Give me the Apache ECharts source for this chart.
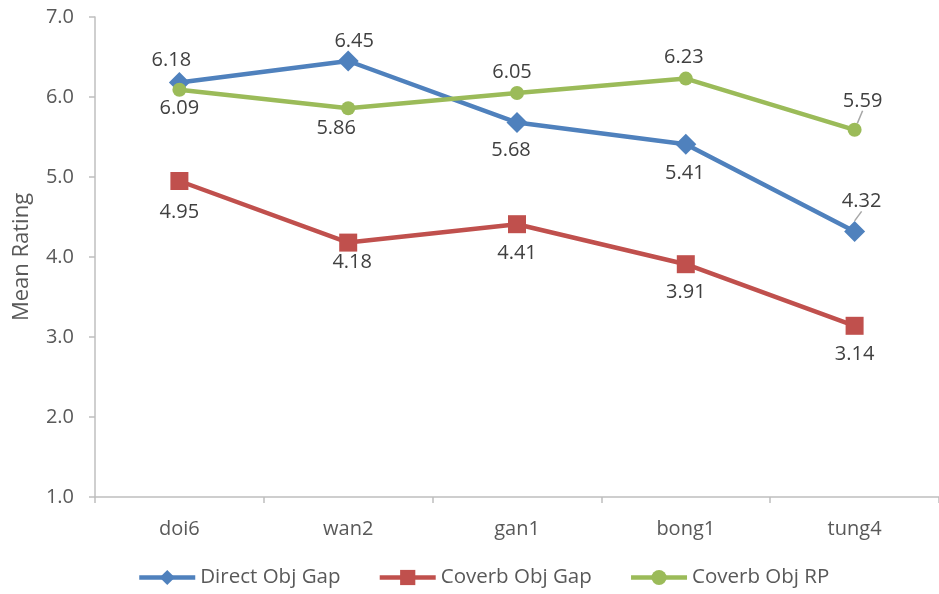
<!DOCTYPE html>
<html><head><meta charset="utf-8">
<script src="https://cdn.jsdelivr.net/npm/echarts@6/dist/echarts.min.js"></script>
<style>html,body{margin:0;padding:0;background:#fff}#c{width:939px;height:594px}</style>
</head><body><div id="c"></div>
<script>
const categories = ['doi6','wan2','gan1','bong1','tung4'];
const directObjGap = [6.18, 6.45, 5.68, 5.41, 4.32];
const coverbObjGap = [4.95, 4.18, 4.41, 3.91, 3.14];
const coverbObjRP = [6.09, 5.86, 6.05, 6.23, 5.59];

// label placement (styling), relative to each point
const directLbl = [[-8,-22],[6,-20],[-6,28],[-1,29],[7,-30]];
const gapLbl = [[0,31],[4,20],[0,29],[0,28],[0,28]];
const rpLbl = [[0,18],[-12,20],[-5,-21],[-2,-21],[8,-29]];
const leader = [false,false,false,false,true];

const FONT = 'Open Sans';
const txt = '#404040';
function mk(vals, offs){
  return vals.map((v,i)=>{
    const d = {value:v, label:{position:'inside', offset:offs[i]}};
    if(leader[i] && offs[i][1] < 0) d.labelLine = {show:true};
    return d;
  });
}
const chart = echarts.init(document.getElementById('c'), null, {renderer:'canvas'});
const base = {
  type:'line', symbolKeepAspect:true,
  lineStyle:{width:4.5},
  label:{show:true, color:txt, fontSize:20, fontFamily:FONT, formatter:p=>p.value.toFixed(2)},
  labelLine:{show:false, lineStyle:{color:'#a6a6a6', width:1.5}, length2:0},
  emphasis:{disabled:true}, animation:false
};
chart.setOption({
  animation:false,
  grid:{left:95, top:17, bottom:97, right:-12, containLabel:false},
  legend:{bottom:1, left:132, itemGap:37, itemWidth:56, itemHeight:19,
    lineStyle:{width:4.5},
    textStyle:{fontSize:20.5, color:'#595959', fontFamily:FONT},
    data:['Direct Obj Gap','Coverb Obj Gap','Coverb Obj RP']},
  xAxis:{type:'category', data:categories, boundaryGap:true,
    axisLine:{lineStyle:{color:'#bfbfbf', width:1.5}},
    axisTick:{show:true, length:6, lineStyle:{color:'#bfbfbf', width:1.5}},
    axisLabel:{fontSize:20, color:'#595959', fontFamily:FONT, margin:22}},
  yAxis:{type:'value', min:1, max:7, interval:1,
    name:'Mean Rating', nameLocation:'middle', nameGap:62, nameRotate:90,
    nameTextStyle:{fontSize:22, color:'#595959', fontFamily:FONT},
    axisLine:{show:true, lineStyle:{color:'#bfbfbf', width:1.5}},
    axisTick:{show:true, length:6, lineStyle:{color:'#bfbfbf', width:1.5}},
    splitLine:{show:false},
    axisLabel:{fontSize:20, color:'#595959', fontFamily:FONT, margin:21, formatter:v=>v.toFixed(1)}},
  series:[
    Object.assign({}, base, {name:'Direct Obj Gap', data:mk(directObjGap, directLbl), color:'#4F81BD',
      symbol:'diamond', symbolSize:[21,21], z:3}),
    Object.assign({}, base, {name:'Coverb Obj Gap', data:mk(coverbObjGap, gapLbl), color:'#C0504D',
      symbol:'rect', symbolSize:[18,18], z:2}),
    Object.assign({}, base, {name:'Coverb Obj RP', data:mk(coverbObjRP, rpLbl), color:'#9BBB59',
      symbol:'circle', symbolSize:14, z:4})
  ]
});
</script></body></html>
